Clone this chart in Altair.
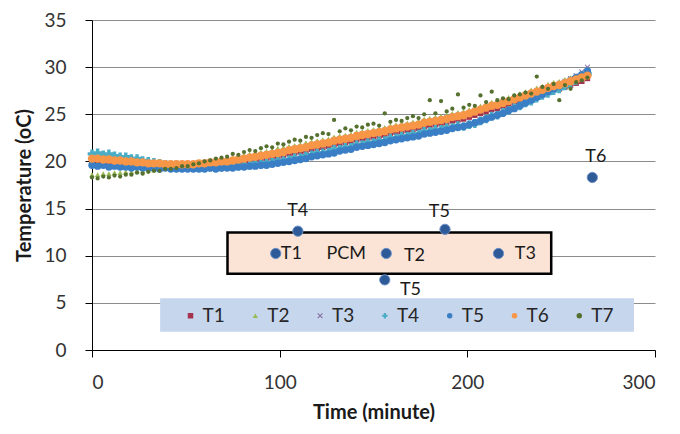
import altair as alt
import pandas as pd

# ---------------- data ----------------
time_min = list(range(0, 265, 3))  # sampling grid, minutes

T1 = [19.8,19.8,19.7,19.7,19.6,19.6,19.5,19.5,19.5,19.4,
      19.4,19.4,19.3,19.3,19.3,19.3,19.3,19.3,19.3,19.4,
      19.4,19.5,19.5,19.6,19.6,19.7,19.8,19.9,20.0,20.1,
      20.2,20.3,20.4,20.5,20.6,20.8,20.9,21.0,21.1,21.3,
      21.4,21.5,21.6,21.8,21.9,22.0,22.1,22.3,22.4,22.5,
      22.6,22.7,22.8,23.0,23.1,23.2,23.3,23.4,23.5,23.7,
      23.8,23.9,24.0,24.1,24.3,24.4,24.5,24.7,24.9,25.1,
      25.3,25.5,25.6,25.8,26.0,26.2,26.4,26.6,26.8,27.0,
      27.2,27.4,27.6,27.7,27.9,28.1,28.3,28.5,28.8]
T2 = [18.6,18.6,18.7,18.7,18.8,18.8,18.9,18.9,19.0,19.0,
      19.1,19.1,19.2,19.3,19.3,19.4,19.5,19.6,19.7,19.8,
      19.9,20.0,20.1,20.2,20.3,20.4,20.5,20.7,20.8,20.9,
      21.0,21.1,21.2,21.4,21.5,21.6,21.7,21.8,22.0,22.1,
      22.2,22.3,22.4,22.6,22.7,22.8,22.9,23.1,23.2,23.3,
      23.4,23.5,23.6,23.8,23.9,24.0,24.1,24.2,24.3,24.5,
      24.6,24.7,24.8,24.9,25.1,25.2,25.3,25.5,25.7,25.9,
      26.1,26.3,26.4,26.6,26.8,27.0,27.2,27.4,27.6,27.8,
      28.0,28.2,28.4,28.5,28.7,28.9,29.1,29.3,29.6]
T3 = [20.4,20.4,20.3,20.3,20.2,20.2,20.1,20.1,20.0,20.0,
      19.9,19.9,19.9,19.8,19.8,19.8,19.8,19.8,19.8,19.9,
      19.9,20.0,20.0,20.1,20.1,20.2,20.3,20.4,20.5,20.6,
      20.7,20.8,20.9,21.0,21.1,21.3,21.4,21.5,21.6,21.8,
      21.9,22.0,22.1,22.3,22.4,22.5,22.6,22.8,22.9,23.0,
      23.1,23.2,23.3,23.5,23.6,23.7,23.8,23.9,24.0,24.2,
      24.3,24.4,24.5,24.6,24.8,24.9,25.0,25.2,25.4,25.6,
      25.8,26.0,26.1,26.3,26.5,26.7,26.9,27.1,27.3,27.5,
      27.7,27.9,28.1,28.3,28.5,28.8,29.1,29.5,30.0]
T4 = [20.8,20.9,20.7,20.8,20.6,20.5,20.5,20.3,20.3,20.1,
      20.0,19.9,19.8,19.7,19.6,19.6,19.5,19.4,19.4,19.4,
      19.4,19.4,19.5,19.4,19.5,19.5,19.5,19.6,19.6,19.8,
      19.7,19.9,19.9,20.1,20.1,20.2,20.4,20.4,20.6,20.7,
      20.9,20.9,21.0,21.3,21.3,21.5,21.5,21.8,21.8,22.0,
      22.0,22.2,22.2,22.5,22.5,22.7,22.7,22.9,22.9,23.2,
      23.2,23.4,23.4,23.6,23.6,23.8,23.7,23.9,24.0,24.3,
      24.5,24.8,24.9,25.2,25.4,25.7,25.9,26.2,26.4,26.7,
      27.0,27.2,27.5,27.7,28.0,28.3,28.6,28.9,29.3]
T5 = [19.6,19.5,19.6,19.4,19.5,19.4,19.4,19.3,19.4,19.3,
      19.3,19.3,19.2,19.3,19.2,19.2,19.2,19.2,19.2,19.2,
      19.2,19.3,19.2,19.3,19.3,19.3,19.4,19.4,19.5,19.5,
      19.6,19.6,19.7,19.8,19.9,20.0,20.1,20.2,20.3,20.5,
      20.6,20.7,20.8,20.9,21.1,21.2,21.3,21.5,21.6,21.7,
      21.8,21.9,22.0,22.2,22.3,22.4,22.5,22.6,22.7,22.9,
      23.0,23.1,23.2,23.3,23.5,23.6,23.7,23.9,24.1,24.3,
      24.5,24.7,24.9,25.1,25.4,25.6,25.9,26.2,26.5,26.8,
      27.1,27.4,27.7,28.0,28.3,28.6,28.9,29.2,29.6]
T6 = [20.3,20.3,20.2,20.2,20.1,20.1,20.0,20.0,19.9,19.9,
      19.8,19.8,19.8,19.7,19.7,19.7,19.7,19.7,19.7,19.8,
      19.8,19.9,19.9,20.0,20.0,20.1,20.2,20.3,20.4,20.5,
      20.6,20.7,20.8,20.9,21.0,21.2,21.3,21.4,21.5,21.7,
      21.8,21.9,22.0,22.2,22.3,22.4,22.5,22.7,22.8,22.9,
      23.0,23.1,23.2,23.4,23.5,23.6,23.7,23.8,23.9,24.1,
      24.2,24.3,24.4,24.5,24.7,24.8,24.9,25.1,25.3,25.5,
      25.7,25.9,26.0,26.2,26.4,26.6,26.8,27.0,27.2,27.4,
      27.6,27.8,28.0,28.1,28.3,28.5,28.7,28.9,29.1]
T7 = [18.3,18.2,18.4,18.3,18.5,18.4,18.6,18.6,18.8,18.7,
      18.9,19.0,19.0,19.2,19.2,19.3,19.5,19.5,19.7,19.8,
      20.0,20.1,20.3,20.4,20.5,20.8,20.7,21.0,21.2,21.1,
      21.4,21.6,21.5,21.9,21.8,22.1,22.3,22.2,22.6,22.5,
      22.8,23.0,22.9,24.4,23.2,23.5,23.3,23.7,23.6,23.9,
      24.0,23.8,25.1,24.2,24.4,24.3,24.6,24.8,24.6,25.0,
      26.5,25.1,26.4,25.3,25.6,27.1,25.7,26.0,25.9,27.0,
      26.3,27.4,26.5,26.7,26.6,27.0,27.1,27.3,27.2,29.0,
      27.9,27.7,28.2,26.5,28.1,27.7,28.4,28.6,28.9]

series_names = ["T1", "T2", "T3", "T4", "T5", "T6", "T7"]
series_values = [T1, T2, T3, T4, T5, T6, T7]
series_colors = ["#a6334d", "#9bbb59", "#7f6a9c", "#4bacc6", "#3a7fc6", "#f79646", "#55702f"]
X_PATH = "M-1,-0.75L-0.75,-1L0,-0.25L0.75,-1L1,-0.75L0.25,0L1,0.75L0.75,1L0,0.25L-0.75,1L-1,0.75L-0.25,0Z"
series_shapes = ["square", "triangle-up", X_PATH, "cross", "circle", "circle", "circle"]
series_sizes = [30, 30, 30, 75, 55, 70, 18]

# sensor sketch (PCM box with sensor positions)
pcm_box_x = [72.2, 244.7]
pcm_box_y = [8.1, 12.45]
sensor_x = [97.9, 156.8, 216.6, 109.7, 188.1, 156.0, 266.6]
sensor_y = [10.24, 10.24, 10.24, 12.6, 12.8, 7.44, 18.3]
note_text = ["T1", "PCM", "T2", "T3", "T4", "T5", "T5", "T6"]
note_x = [106.2, 135.5, 171.8, 230.9, 109.6, 185.1, 169.7, 268.5]
note_y = [10.2, 10.2, 10.0, 10.2, 14.7, 14.6, 6.4, 20.5]

legend_box_x = [36.3, 288.8]
legend_box_y = [1.93, 5.5]

# ---------------- tables ----------------
rows = []
for name, vals, sz in zip(series_names, series_values, series_sizes):
    for t, v in zip(time_min, vals):
        rows.append({"time": t, "temp": v, "series": name, "sz": sz})
df = pd.DataFrame(rows)

box_df = pd.DataFrame({"time": [pcm_box_x[0]], "time2": [pcm_box_x[1]],
                       "temp": [pcm_box_y[0]], "temp2": [pcm_box_y[1]]})
leg_df = pd.DataFrame({"time": [legend_box_x[0]], "time2": [legend_box_x[1]],
                       "temp": [legend_box_y[0]], "temp2": [legend_box_y[1]]})
sensor_df = pd.DataFrame({"time": sensor_x, "temp": sensor_y})
note_df = pd.DataFrame({"time": note_x, "temp": note_y, "label": note_text})

FONT = "Lato"
XT = "Time (minute)"
YT = "Temperature (oC)"

x_axis = alt.Axis(values=[0, 100, 200, 300], grid=False, domainColor="black",
                  tickColor="black", tickSize=7, labelPadding=16,
                  labelFont=FONT, labelFontSize=19, labelColor="#333333",
                  titleFont=FONT, titleFontSize=20, titleFontWeight="bold",
                  titleColor="#1a1a1a", titlePadding=10)
y_axis = alt.Axis(values=[0, 5, 10, 15, 20, 25, 30, 35], grid=True,
                  gridColor="#8c8c8c", gridWidth=1, domainColor="black",
                  tickColor="black", tickSize=7, labelPadding=19,
                  labelFont=FONT, labelFontSize=19, labelColor="#333333",
                  titleFont=FONT, titleFontSize=20, titleFontWeight="bold",
                  titleColor="#1a1a1a", titlePadding=9)
xs = alt.Scale(domain=[0, 300], nice=False)
ys = alt.Scale(domain=[0, 35], nice=False)

leg = alt.Legend(title=None, orient="none", legendX=89, legendY=286,
                 direction="horizontal", columns=7, padding=0,
                 labelFont=FONT, labelFontSize=19, labelColor="#262626",
                 labelOffset=2.5, columnPadding=20.8, symbolSize=30,
                 symbolStrokeWidth=0)

legend_bg = alt.Chart(leg_df).mark_rect(color="#c6d6ec").encode(
    x=alt.X("time:Q", scale=xs, axis=x_axis, title=XT),
    x2="time2:Q",
    y=alt.Y("temp:Q", scale=ys, axis=y_axis, title=YT),
    y2="temp2:Q",
)

points = alt.Chart(df).mark_point(filled=True, opacity=1).encode(
    x=alt.X("time:Q", scale=xs, title=XT),
    y=alt.Y("temp:Q", scale=ys, title=YT),
    color=alt.Color("series:N", scale=alt.Scale(domain=series_names, range=series_colors), legend=leg),
    shape=alt.Shape("series:N", scale=alt.Scale(domain=series_names, range=series_shapes), legend=leg),
    size=alt.Size("sz:Q", scale=None, legend=None),
)

pcm_box = alt.Chart(box_df).mark_rect(fill="#fbe4d5", stroke="black", strokeWidth=2.5).encode(
    x=alt.X("time:Q", scale=xs, title=XT),
    x2="time2:Q",
    y=alt.Y("temp:Q", scale=ys, title=YT),
    y2="temp2:Q",
)

sensors = alt.Chart(sensor_df).mark_circle(size=105, color="#2f5a98", opacity=1,
                                           stroke="#6b90c6", strokeWidth=1).encode(
    x=alt.X("time:Q", scale=xs, title=XT),
    y=alt.Y("temp:Q", scale=ys, title=YT),
)

notes = alt.Chart(note_df).mark_text(font=FONT, fontSize=18, color="#1a1a1a",
                                     align="center", baseline="middle").encode(
    x=alt.X("time:Q", scale=xs, title=XT),
    y=alt.Y("temp:Q", scale=ys, title=YT),
    text="label:N",
)

chart = alt.layer(legend_bg, points, pcm_box, sensors, notes).properties(
    width=563, height=330,
    autosize=alt.AutoSizeParams(type="none"),
    padding={"left": 84, "top": 12, "right": 17, "bottom": 76},
).configure_view(strokeWidth=0)

chart.save("out.html", embed_options={"renderer": "svg", "actions": False})
